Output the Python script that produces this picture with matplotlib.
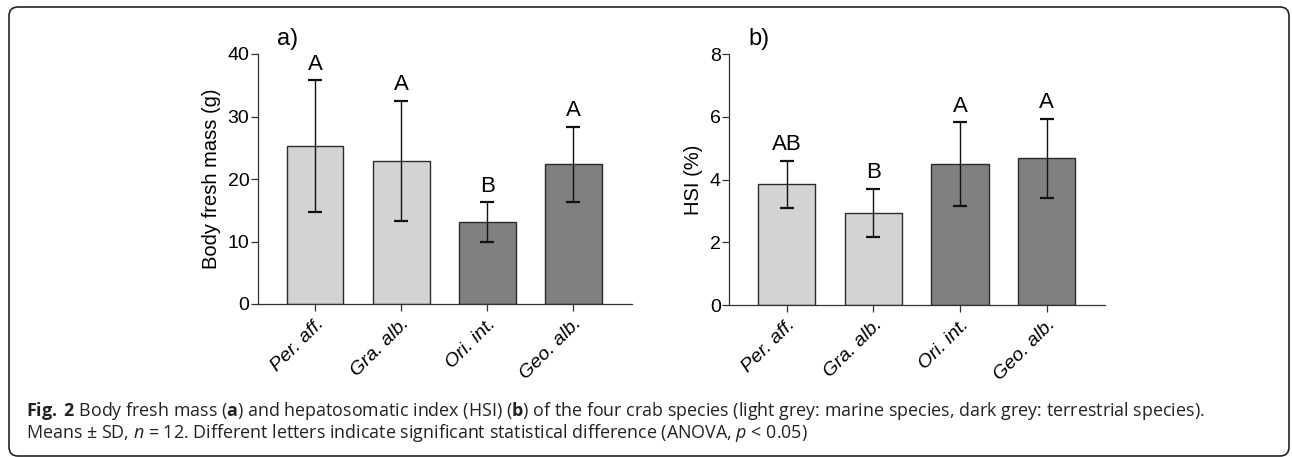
import numpy as np
import matplotlib.pyplot as plt
from matplotlib.patches import FancyBboxPatch

species = ['Per. aff.', 'Gra. alb.', 'Ori. int.', 'Geo. alb.']
mass_mean = [25.3, 22.9, 13.1, 22.4]
mass_sd = [10.5, 9.6, 3.2, 6.0]
mass_letters = ['A', 'A', 'B', 'A']
hsi_mean = [3.86, 2.93, 4.50, 4.68]
hsi_sd = [0.75, 0.77, 1.33, 1.26]
hsi_letters = ['AB', 'B', 'A', 'A']

plt.rcParams['font.family'] = ['Liberation Sans', 'DejaVu Sans']
plt.rcParams['mathtext.fontset'] = 'custom'
plt.rcParams['mathtext.rm'] = 'Open Sans'
plt.rcParams['mathtext.it'] = 'Open Sans:italic'
plt.rcParams['mathtext.bf'] = 'Open Sans:bold'

LIGHT = '#d3d3d3'
DARK = '#808080'
EDGE = '#2b2b2b'
colors = [LIGHT, LIGHT, DARK, DARK]

W, H = 1292, 457
fig = plt.figure(figsize=(W / 100, H / 100), dpi=100)

# rounded frame around the whole figure
frame = FancyBboxPatch((9 / W, 1 / H), 1280 / W, 449 / H,
                       boxstyle='round,pad=0,rounding_size=0.007',
                       transform=fig.transFigure, fill=False,
                       edgecolor='#222222', linewidth=1.2,
                       mutation_aspect=W / H)
fig.patches.append(frame)

ax1 = fig.add_axes([257.7 / W, 1 - 304 / H, 374 / W, 250 / H])
ax2 = fig.add_axes([729.3 / W, 1 - 305 / H, 375.7 / W, 250.7 / H])


def panel(ax, means, sds, letters, ylim, yticks, ylabel, tag, xlim):
    x = np.arange(len(species))
    ax.bar(x, means, width=0.66, color=colors, edgecolor=EDGE, linewidth=1.0, zorder=2)
    ax.errorbar(x, means, yerr=sds, fmt='none', ecolor='#111111', elinewidth=1.0,
                capsize=5, capthick=1.6, zorder=3)
    for xi, m, s, lab in zip(x, means, sds, letters):
        ax.annotate(lab, (xi, m + s), xytext=(0, 4), textcoords='offset points',
                    ha='center', va='bottom', fontsize=16)
    ax.set_ylim(*ylim)
    ax.set_xlim(*xlim)
    ax.set_yticks(yticks)
    ax.set_xticks(x)
    ax.set_xticklabels(species, rotation=45, ha='right', rotation_mode='anchor',
                       style='italic', fontsize=14)
    ax.tick_params(axis='y', labelsize=14, length=5, width=0.9, color='#333333', pad=1)
    ax.tick_params(axis='x', length=5, width=0.9, color='#333333', pad=3)
    ax.set_ylabel(ylabel, fontsize=14.5, labelpad=5)
    for s in ['top', 'right']:
        ax.spines[s].set_visible(False)
    for s in ['left', 'bottom']:
        ax.spines[s].set_linewidth(0.9)
        ax.spines[s].set_color('#333333')
    ax.text(19 / 374, 1 + 9 / 250, tag, transform=ax.transAxes, fontsize=17,
            va='baseline', ha='left')


panel(ax1, mass_mean, mass_sd, mass_letters, (0, 40), [0, 10, 20, 30, 40],
      'Body fresh mass (g)', 'a)', (-0.667, 3.68))
panel(ax2, hsi_mean, hsi_sd, hsi_letters, (0, 8), [0, 2, 4, 6, 8],
      'HSI (%)', 'b)', (-0.66, 3.67))

cap = dict(family=['Open Sans', 'DejaVu Sans'], fontsize=12.9, color='#222222',
           va='baseline', ha='left')
fig.text(26 / W, 1 - 416.5 / H,
         r'$\mathbf{Fig.\;2}$ Body fresh mass ($\mathbf{a}$) and hepatosomatic index (HSI) '
         r'($\mathbf{b}$) of the four crab species '
         '(light grey: marine species, dark grey: terrestrial species).', **cap)
fig.text(26 / W, 1 - 437.5 / H,
         r'Means ± SD, $n$ = 12. Different letters indicate significant statistical '
         r'difference (ANOVA, $p$ < 0.05)', **cap)

fig.savefig('out.png', dpi=100)
